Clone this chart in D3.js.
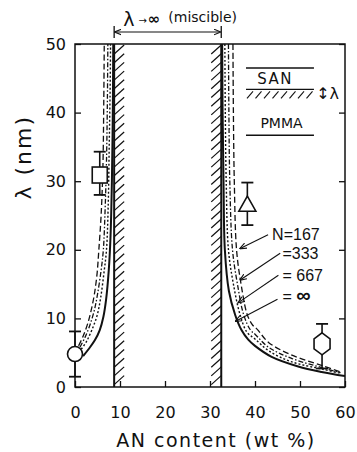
<!DOCTYPE html>
<html>
<head>
<meta charset="utf-8">
<script src="https://cdn.jsdelivr.net/npm/d3@7"></script>
<style>
  body { margin: 0; background: #fff; }
  svg { display: block; }
  text { font-family: "DejaVu Sans", sans-serif; fill: #111; }
</style>
</head>
<body>
<div id="chart"></div>
<script>
// Données : [AN (wt %), lambda (nm)]
const xTicks = [0, 10, 20, 30, 40, 50, 60];
const yTicks = [0, 10, 20, 30, 40, 50];

// courbes côté gauche (faible teneur en AN)
const left167 = [[0.8, 6.0], [1.8, 7.4], [2.8, 9.2], [3.6, 11.2], [4.3, 13.5], [4.9, 16.5], [5.3, 20], [5.8, 25], [6.2, 32], [6.4, 42], [6.5, 50]];
const left333 = [[1.1, 5.8], [2.2, 7.2], [3.3, 9.0], [4.3, 11.2], [5.0, 13.5], [5.8, 17], [6.3, 20], [6.7, 26], [7.0, 33], [7.2, 42], [7.3, 50]];
const left667 = [[1.4, 5.5], [2.6, 6.7], [3.8, 8.4], [4.9, 10.4], [5.7, 13], [6.5, 17], [7.0, 20], [7.4, 27], [7.6, 35], [7.8, 43], [7.9, 50]];
const leftInf = [[1.8, 4.5], [3.0, 5.5], [4.4, 6.8], [5.5, 8.3], [6.3, 10.2], [6.9, 12.7], [7.5, 17], [7.9, 22], [8.2, 30], [8.4, 40], [8.5, 50]];

// courbes côté droit (forte teneur en AN)
const right167 = [[35.1, 50], [35.2, 40], [35.4, 30], [35.9, 20], [36.9, 15], [38.3, 10.5], [39.5, 9.0], [40.5, 8.4], [43, 6.5], [48, 4.7], [55, 3.1], [59, 2.2]];
const right333 = [[34.1, 50], [34.2, 40], [34.4, 30], [35.0, 20], [36.1, 15], [37.5, 10.5], [39, 8.3], [40, 7.7], [43, 5.8], [48, 4.2], [55, 2.8], [59, 2.1]];
const right667 = [[33.3, 50], [33.4, 40], [33.6, 30], [34.1, 20], [35.2, 15], [36.7, 10.5], [38.2, 8.0], [40, 7.0], [43, 5.3], [48, 3.7], [55, 2.6], [59, 2.0]];
const rightInf = [[32.7, 50], [32.8, 40], [33.0, 30], [33.3, 20], [34.2, 14], [35.6, 10.5], [37, 8.3], [38.5, 6.9], [40, 6.0], [43.7, 4.4], [49.6, 3.0], [54.8, 2.2], [60, 1.6]];

const curveNames = ["167", "333", "667", "inf"];

// limites de la zone miscible
const miscibleBounds = [8.7, 32.5];

// points expérimentaux
const pointShapes = ["square", "circle", "triangle", "hexagon"];
const pointAN = [5.5, 0, 38.3, 54.9];
const pointLambda = [30.9, 4.8, 26.5, 6.3];
const errLow = [28.0, 1.5, 23.6, 2.7];
const errHigh = [34.3, 8.1, 29.8, 9.2];

// étiquettes N
const labelText = ["N=167", "=333", "= 667", "= "];
const labelAN = [43.8, 46.1, 46.1, 46.1];
const labelLambda = [21.4, 18.6, 15.5, 12.4];
const leaderFrom = [[42.9, 22.2], [45.6, 19.5], [45.2, 16.3], [45.0, 12.8]];
const leaderTo = [[36.7, 20.2], [36.7, 15.6], [36.3, 12.3], [35.7, 9.6]];

//---------------------------------------------------------------------------------------

const W = 357, H = 452;
const svg = d3.select("#chart").append("svg")
  .attr("width", W).attr("height", H)
  .attr("viewBox", [0, 0, W, H]);

const x = d3.scaleLinear().domain([0, 60]).range([75, 345]);
const y = d3.scaleLinear().domain([0, 50]).range([387, 44]);

const defs = svg.append("defs");
defs.append("clipPath").attr("id", "plot-clip")
  .append("rect")
  .attr("x", x(0)).attr("y", y(50))
  .attr("width", x(60) - x(0)).attr("height", y(0) - y(50));

defs.append("marker")
  .attr("id", "arrow")
  .attr("viewBox", "0 0 10 10")
  .attr("refX", 9).attr("refY", 5)
  .attr("markerWidth", 7).attr("markerHeight", 7)
  .attr("markerUnits", "userSpaceOnUse")
  .attr("orient", "auto-start-reverse")
  .append("path")
  .attr("d", "M0,1 L10,5 L0,9")
  .attr("fill", "none")
  .attr("stroke", "#111")
  .attr("stroke-width", 1.6);

//---------------------------------------------------------------------------------------
// Axes

const xAxis = svg.append("g")
  .attr("transform", `translate(0, ${y(0)})`)
  .call(d3.axisBottom(x).tickValues(xTicks).tickSizeInner(-6).tickSizeOuter(0).tickPadding(20));

const yAxis = svg.append("g")
  .attr("transform", `translate(${x(0)}, 0)`)
  .call(d3.axisLeft(y).tickValues(yTicks).tickSizeInner(-6).tickSizeOuter(0).tickPadding(9));

const yAxisR = svg.append("g")
  .attr("transform", `translate(${x(60)}, 0)`)
  .call(d3.axisRight(y).tickValues(yTicks).tickSizeInner(-6).tickSizeOuter(0).tickFormat(""));

[xAxis, yAxis, yAxisR].forEach(g => {
  g.select(".domain").remove();
  g.selectAll(".tick line").attr("stroke", "#111").attr("stroke-width", 1.3);
  g.selectAll("text")
    .attr("fill", "#111")
    .style("font-family", "DejaVu Sans, sans-serif")
    .style("font-size", "16px");
});

// cadre
svg.append("rect")
  .attr("x", x(0)).attr("y", y(50))
  .attr("width", x(60) - x(0)).attr("height", y(0) - y(50))
  .attr("fill", "none")
  .attr("stroke", "#111")
  .attr("stroke-width", 1.5);

// titres des axes
svg.append("text")
  .attr("x", 216)
  .attr("y", 447)
  .attr("text-anchor", "middle")
  .style("font-size", "19px")
  .style("letter-spacing", "1.5px")
  .text("AN content (wt %)");

svg.append("text")
  .attr("transform", `translate(31, ${y(33.5)}) rotate(-90)`)
  .attr("text-anchor", "middle")
  .style("font-size", "22px")
  .style("letter-spacing", "2px")
  .text("λ (nm)");

//---------------------------------------------------------------------------------------
// Zone miscible : lignes verticales hachurées

const plot = svg.append("g").attr("clip-path", "url(#plot-clip)");

const hatchRows = d3.range(y(50) + 1, y(1.2), 8.7);

miscibleBounds.forEach((b, i) => {
  plot.append("line")
    .attr("x1", x(b)).attr("x2", x(b))
    .attr("y1", y(50)).attr("y2", y(0))
    .attr("stroke", "#111")
    .attr("stroke-width", 2);

  const x0 = i === 0 ? x(b) : x(b) - 10;
  plot.selectAll(null)
    .data(hatchRows)
    .join("line")
    .attr("x1", x0).attr("y1", d => d + 9)
    .attr("x2", x0 + 10).attr("y2", d => d)
    .attr("stroke", "#111")
    .attr("stroke-width", 1.2);
});

//---------------------------------------------------------------------------------------
// Courbes

const line = d3.line()
  .x(d => x(d[0]))
  .y(d => y(d[1]))
  .curve(d3.curveCatmullRom.alpha(0.5));

const styles = {
  "167": { dash: "6,3", w: 1.3 },
  "333": { dash: "5,2,1.5,2", w: 1.3 },
  "667": { dash: "2,2", w: 1.4 },
  "inf": { dash: null, w: 2 }
};

const curves = [
  [left167, "167"], [left333, "333"], [left667, "667"], [leftInf, "inf"],
  [right167, "167"], [right333, "333"], [right667, "667"], [rightInf, "inf"]
];

curves.forEach(([pts, n]) => {
  plot.append("path")
    .attr("d", line(pts))
    .attr("fill", "none")
    .attr("stroke", "#111")
    .attr("stroke-width", styles[n].w)
    .attr("stroke-dasharray", styles[n].dash);
});

//---------------------------------------------------------------------------------------
// Points expérimentaux avec barres d'erreur

const capHalf = 6;
pointShapes.forEach((s, i) => {
  const cx = x(pointAN[i]);
  const g = svg.append("g");
  g.append("line")
    .attr("x1", cx).attr("x2", cx)
    .attr("y1", y(errLow[i])).attr("y2", y(errHigh[i]))
    .attr("stroke", "#111").attr("stroke-width", 1.6);
  [errLow[i], errHigh[i]].forEach(v => {
    g.append("line")
      .attr("x1", cx - capHalf).attr("x2", cx + capHalf)
      .attr("y1", y(v)).attr("y2", y(v))
      .attr("stroke", "#111").attr("stroke-width", 1.8);
  });

  const cy = y(pointLambda[i]);
  let shape;
  if (s === "circle") {
    shape = g.append("circle").attr("cx", cx).attr("cy", cy).attr("r", 7.5);
  } else if (s === "square") {
    shape = g.append("rect").attr("x", cx - 7.5).attr("y", cy - 8).attr("width", 15).attr("height", 16);
  } else if (s === "triangle") {
    shape = g.append("path").attr("d", `M${cx},${cy - 9} L${cx + 8.5},${cy + 6} L${cx - 8.5},${cy + 6} Z`);
  } else {
    shape = g.append("path").attr("d", `M${cx},${cy - 11} L${cx + 8},${cy - 5} L${cx + 8},${cy + 5} L${cx},${cy + 11} L${cx - 8},${cy + 5} L${cx - 8},${cy - 5} Z`);
  }
  shape.attr("fill", "#fff").attr("stroke", "#111").attr("stroke-width", 1.6);
});

//---------------------------------------------------------------------------------------
// Étiquettes N avec flèches

labelText.forEach((t, i) => {
  svg.append("line")
    .attr("x1", x(leaderFrom[i][0])).attr("y1", y(leaderFrom[i][1]))
    .attr("x2", x(leaderTo[i][0])).attr("y2", y(leaderTo[i][1]))
    .attr("stroke", "#111")
    .attr("stroke-width", 1.1)
    .attr("marker-end", "url(#arrow)");

  const txt = svg.append("text")
    .attr("x", x(labelAN[i]))
    .attr("y", y(labelLambda[i]))
    .style("font-family", "Liberation Sans, Arial, sans-serif")
    .style("font-size", "16px")
    .text(t);
  if (i === 3) {
    txt.append("tspan")
      .style("font-size", "20px")
      .style("font-weight", "bold")
      .text("∞");
  }
});

//---------------------------------------------------------------------------------------
// Encart SAN / PMMA

const insetX = [38, 53.1];
const insetG = svg.append("g");
[46.5, 43.4, 36.7].forEach(v => {
  insetG.append("line")
    .attr("x1", x(insetX[0])).attr("x2", x(insetX[1]))
    .attr("y1", y(v)).attr("y2", y(v))
    .attr("stroke", "#111").attr("stroke-width", 1.3);
});
const bandTop = y(43.4), bandBot = bandTop + 9;
insetG.selectAll(null)
  .data(d3.range(x(insetX[0]) + 1, x(insetX[1]) - 3, 8.5))
  .join("line")
  .attr("x1", d => d).attr("y1", bandBot)
  .attr("x2", d => d + 6).attr("y2", bandTop + 2)
  .attr("stroke", "#111").attr("stroke-width", 1.1);

insetG.append("text")
  .attr("x", x(40.5)).attr("y", y(43.4) - 5)
  .style("font-size", "15px")
  .style("letter-spacing", "1.5px")
  .text("SAN");
insetG.append("text")
  .attr("x", x(41.2)).attr("y", y(37.8))
  .style("font-size", "14px")
  .text("PMMA");
insetG.append("text")
  .attr("x", x(53.6)).attr("y", bandBot + 1)
  .style("font-size", "16px")
  .text("↕λ");

//---------------------------------------------------------------------------------------
// Annotation supérieure : λ → ∞ (miscible)

const arrowY = 32;
miscibleBounds.forEach(b => {
  svg.append("line")
    .attr("x1", x(b)).attr("x2", x(b))
    .attr("y1", arrowY - 6).attr("y2", arrowY + 6)
    .attr("stroke", "#111").attr("stroke-width", 1.3);
});
svg.append("line")
  .attr("x1", x(miscibleBounds[0]) + 1).attr("x2", x(miscibleBounds[1]) - 1)
  .attr("y1", arrowY).attr("y2", arrowY)
  .attr("stroke", "#111").attr("stroke-width", 1.1)
  .attr("marker-start", "url(#arrow)")
  .attr("marker-end", "url(#arrow)");

const topTxt = svg.append("text")
  .attr("x", x(miscibleBounds[0]) + 9)
  .attr("y", 26)
  .style("font-size", "15px");
topTxt.append("tspan").style("font-size", "19px").text("λ");
topTxt.append("tspan").attr("dx", 4).attr("dy", -2).style("font-size", "10px").text("→");
topTxt.append("tspan").attr("dx", 1).style("font-size", "15px").style("font-weight", "bold").text("∞");
topTxt.append("tspan").attr("dx", 8).attr("dy", -2).style("font-size", "14px").text("(miscible)");
</script>
</body>
</html>
